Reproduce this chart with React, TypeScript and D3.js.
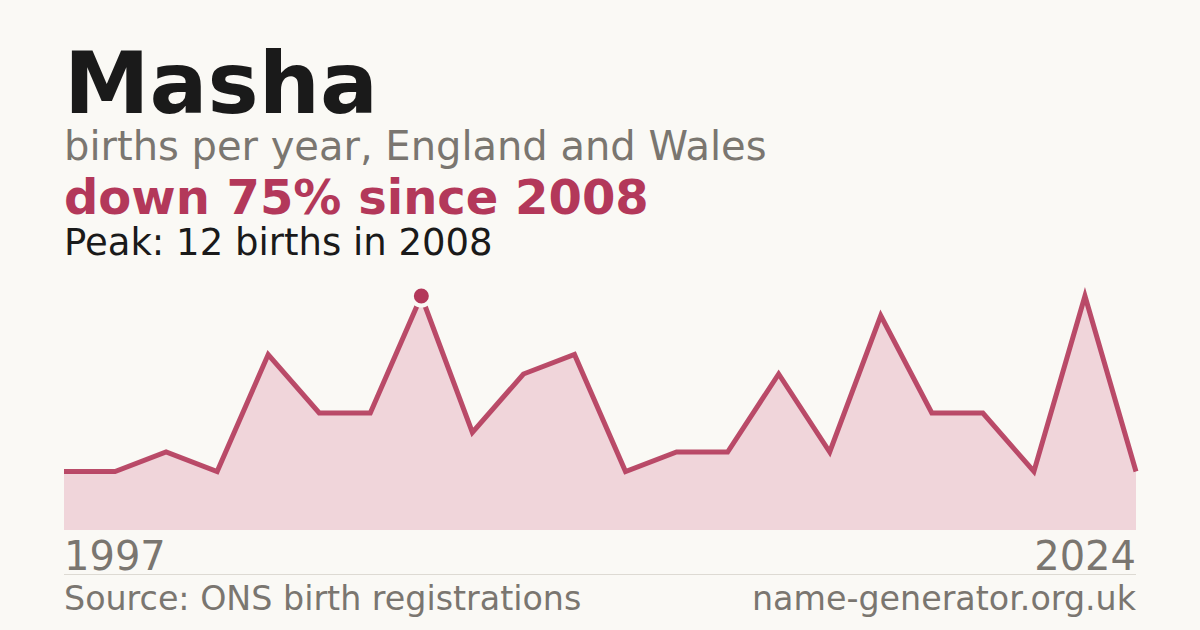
import React from 'react'
import * as d3 from 'd3'

const years = [
  1997, 1998, 2000, 2002, 2004, 2005, 2007, 2008, 2009, 2010, 2011,
  2012, 2013, 2015, 2016, 2017, 2018, 2019, 2020, 2021, 2023, 2024,
]
const births = [3, 3, 4, 3, 9, 6, 6, 12, 5, 8, 9, 3, 4, 4, 8, 4, 11, 6, 6, 3, 12, 3]

const W = 1200
const H = 630
const left = 64
const right = 1136
const font = '"DejaVu Sans", sans-serif'

const App: React.FC = () => {
  const x = d3
    .scalePoint<number>()
    .domain(years)
    .range([left, right])
  const y = d3
    .scaleLinear()
    .domain([0, d3.max(births) ?? 0])
    .range([530, 296])

  const pts = years.map((yr, i) => ({ yr, v: births[i] }))
  const line = d3
    .line<{ yr: number; v: number }>()
    .x((d) => x(d.yr)!)
    .y((d) => y(d.v))
  const area = d3
    .area<{ yr: number; v: number }>()
    .x((d) => x(d.yr)!)
    .y0(y(0))
    .y1((d) => y(d.v))

  const peakIdx = d3.maxIndex(births)
  const peak = pts[peakIdx]
  const last = births[births.length - 1]
  const pct = Math.round((1 - last / peak.v) * 100)

  return (
    <svg
      width={W}
      height={H}
      style={{ position: 'absolute', left: 0, top: 0 }}
    >
      <rect width={W} height={H} fill="#faf9f5" />
      <text x={left} y={113} fontFamily={font} fontWeight="bold" fontSize={86} fill="#1a1a1a">
        Masha
      </text>
      <text x={left} y={160} fontFamily={font} fontSize={40} fill="#7a7670">
        births per year, England and Wales
      </text>
      <text x={left} y={214} fontFamily={font} fontWeight="bold" fontSize={48} fill="#b3385a">
        down {pct}% since {peak.yr}
      </text>
      <text x={left} y={255} fontFamily={font} fontSize={37} fill="#1a1a1a">
        Peak: {peak.v} births in {peak.yr}
      </text>

      <path d={area(pts) ?? ''} fill="#f0d5da" />
      <path
        d={line(pts) ?? ''}
        fill="none"
        stroke="#b3385a"
        strokeWidth={5}
        strokeLinejoin="miter"
        strokeOpacity={0.9}
      />
      <circle
        cx={x(peak.yr)}
        cy={y(peak.v)}
        r={9.5}
        fill="#b3385a"
        stroke="#faf9f5"
        strokeWidth={4}
      />

      <text x={left} y={570} fontFamily={font} fontSize={40} fill="#7a7670">
        {years[0]}
      </text>
      <text x={right} y={570} textAnchor="end" fontFamily={font} fontSize={40} fill="#7a7670">
        {years[years.length - 1]}
      </text>
      <line x1={left} x2={right} y1={574.5} y2={574.5} stroke="#dddad3" strokeWidth={1} />
      <text x={left} y={610} fontFamily={font} fontSize={33.3} fill="#7a7670">
        Source: ONS birth registrations
      </text>
      <text x={right} y={610} textAnchor="end" fontFamily={font} fontSize={33.3} fill="#7a7670">
        name-generator.org.uk
      </text>
    </svg>
  )
}

export default App
